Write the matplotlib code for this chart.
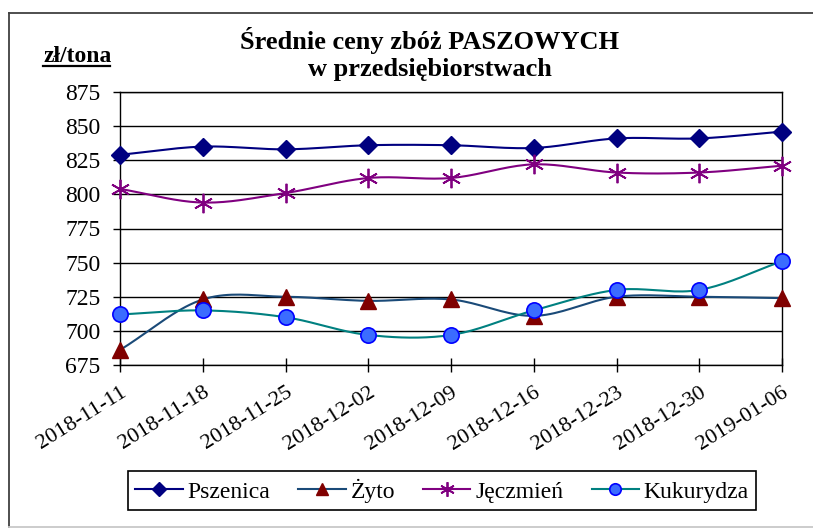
import numpy as np
import matplotlib
matplotlib.use("Agg")
import matplotlib.pyplot as plt
from matplotlib.lines import Line2D

# dates (weekly notowania)
dates = ["2018-11-11", "2018-11-18", "2018-11-25", "2018-12-02", "2018-12-09",
         "2018-12-16", "2018-12-23", "2018-12-30", "2019-01-06"]

pszenica = [829, 835, 833, 836, 836, 834, 841, 841, 846]
zyto = [686, 723, 725, 722, 723, 711, 725, 725, 724]
jeczmien = [804, 794, 801, 812, 812, 822, 816, 816, 821]
kukurydza = [712, 715, 710, 697, 697, 715, 730, 730, 751]

y_ticks = [675, 700, 725, 750, 775, 800, 825, 850, 875]


def smooth(x, y, n=20):
    """
    Catmull-Rom curve through the points (like Excel 'smoothed line').
    """
    x = np.asarray(x, float)
    y = np.asarray(y, float)
    px = np.concatenate([[2 * x[0] - x[1]], x, [2 * x[-1] - x[-2]]])
    py = np.concatenate([[2 * y[0] - y[1]], y, [2 * y[-1] - y[-2]]])
    xs, ys = [], []
    t = np.linspace(0, 1, n, endpoint=False)
    for i in range(1, len(px) - 2):
        for arr, out in ((px, xs), (py, ys)):
            p0, p1, p2, p3 = arr[i - 1], arr[i], arr[i + 1], arr[i + 2]
            out.extend(0.5 * ((2 * p1) + (-p0 + p2) * t
                              + (2 * p0 - 5 * p1 + 4 * p2 - p3) * t ** 2
                              + (-p0 + 3 * p1 - 3 * p2 + p3) * t ** 3))
    xs.append(x[-1])
    ys.append(y[-1])
    return np.array(xs), np.array(ys)


plt.rcParams['font.family'] = ['Liberation Serif', 'DejaVu Serif']

W, H = 813, 529
fig = plt.figure(figsize=(W / 100, H / 100), dpi=100)
ax = fig.add_axes([120 / W, 1 - 365 / H, (782 - 120) / W, (365 - 92) / H])

# outer frame of the chart object
fig.add_artist(Line2D([9 / W, 9 / W], [2 / H, 1 - 12.5 / H], color='#404040', lw=1.3))
fig.add_artist(Line2D([9 / W, 1], [1 - 12.5 / H, 1 - 12.5 / H], color='#404040', lw=1.3))
fig.add_artist(Line2D([9 / W, 1], [2 / H, 2 / H], color='#c8c8c8', lw=1.3))

x = np.arange(len(dates))
series = [
    ("Pszenica", pszenica, dict(color='#000080', marker='D', markersize=9,
                                markerfacecolor='#000080', markeredgecolor='#000080')),
    ("Żyto", zyto, dict(color='#1a4a78', marker='^', markersize=11,
                        markerfacecolor='#800000', markeredgecolor='#800000')),
    ("Jęczmień", jeczmien, dict(color='#800080', marker=(6, 2, 0), markersize=14,
                                markeredgewidth=1.3, markeredgecolor='#800080')),
    ("Kukurydza", kukurydza, dict(color='#008080', marker='o', markersize=11,
                                  markerfacecolor='#3b6cff', markeredgecolor='#0000ff',
                                  markeredgewidth=1.2)),
]

handles = []
for name, vals, st in series:
    sx, sy = smooth(x, vals)
    ax.plot(sx, sy, color=st['color'], lw=1.5, zorder=3, clip_on=False)
    mk = {k: v for k, v in st.items() if k != 'color'}
    ax.plot(x, vals, linestyle='none', zorder=4, clip_on=False, **mk)
    handles.append(Line2D([], [], color=st['color'], lw=1.5, **{**mk, 'markersize': mk['markersize'] * 0.75}))

ax.set_xlim(0, len(dates) - 1)
ax.set_ylim(675, 875)
ax.set_yticks(y_ticks)
ax.set_xticks(x)
ax.set_xticklabels(dates, rotation=32, ha='right', va='top', rotation_mode='anchor')
ax.yaxis.grid(True, color='black', lw=1)
ax.set_axisbelow(True)
for s in ax.spines.values():
    s.set_color('black')
    s.set_linewidth(1)
ax.tick_params(axis='y', direction='out', length=5, width=1, pad=9, labelsize=17)
ax.tick_params(axis='x', direction='inout', length=10, width=1, pad=8, labelsize=16)

fig.text(430 / W, 1 - 54 / H, "Średnie ceny zbóż PASZOWYCH\nw przedsiębiorstwach",
         ha='center', va='center', fontsize=19, fontweight='bold', linespacing=1.2)

fig.text(43 / W, 1 - 56 / H, "zł/tona", ha='left', va='center', fontsize=17, fontweight='bold')
fig.add_artist(Line2D([43 / W, 110 / W], [1 - 65.5 / H, 1 - 65.5 / H], color='black', lw=1.6))

leg = fig.legend(handles, [s[0] for s in series], loc='center',
                 bbox_to_anchor=(442 / W, 1 - 490.5 / H), ncol=4, fontsize=17,
                 frameon=True, fancybox=False, edgecolor='black', framealpha=1,
                 handlelength=2.0, handletextpad=0.2, columnspacing=1.2,
                 borderpad=0.3, numpoints=1)
leg.get_frame().set_linewidth(1.2)

fig.savefig("out.png", dpi=100)
